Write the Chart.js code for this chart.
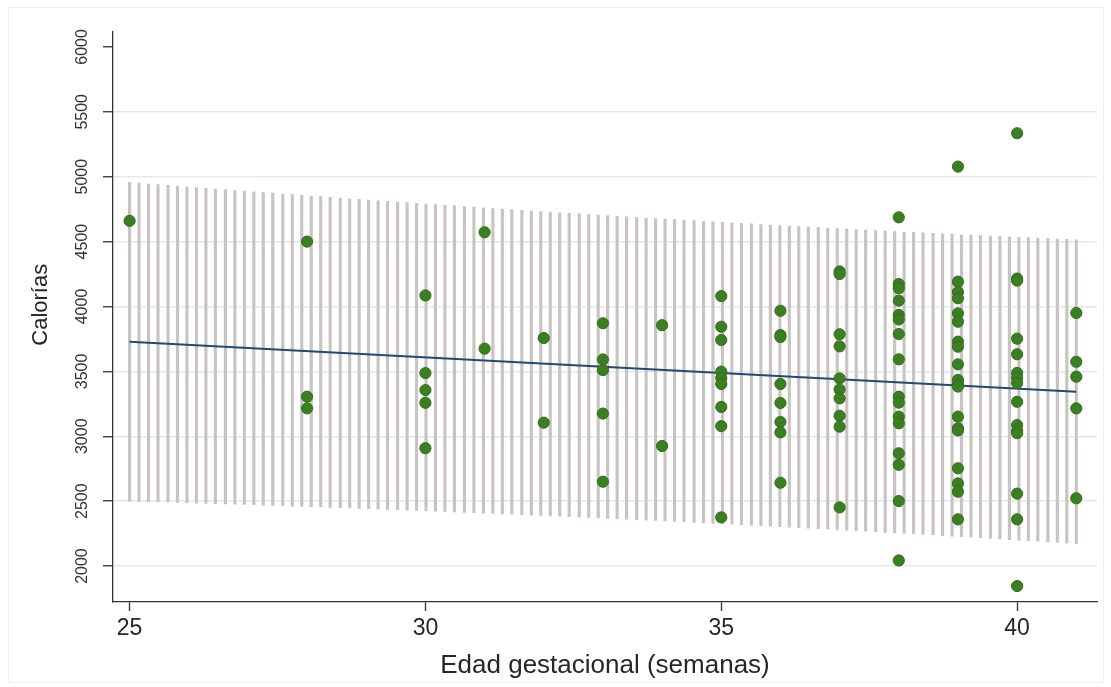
<!DOCTYPE html>
<html>
<head>
<meta charset="utf-8">
<title>Calorías vs edad gestacional</title>
<script src="https://cdn.jsdelivr.net/npm/chart.js@4/dist/chart.umd.min.js"></script>
<style>
  html, body { margin: 0; padding: 0; background: #fff; }
  #wrap { width: 1111px; height: 687px; }
</style>
</head>
<body>
<div id="wrap"><canvas id="chart" width="1111" height="687"></canvas></div>
<script>
// ---- data ----
const xTicks = [25, 30, 35, 40];
const yTicks = [2000, 2500, 3000, 3500, 4000, 4500, 5000, 5500, 6000];

// observed points, one list of calories per gestational week
const weeks = [25, 28, 30, 31, 32, 33, 34, 35, 36, 37, 38, 39, 40, 41];
const calories = [
  [4660],
  [4500, 3305, 3215],
  [4085, 3487, 3356, 3258, 2908],
  [4572, 3675],
  [3757, 3105],
  [3871, 3592, 3510, 3175, 2650],
  [3856, 2925],
  [4080, 3844, 3742, 3498, 3449, 3403, 3226, 3078, 2375],
  [3967, 3780, 3765, 3403, 3257, 3110, 3030, 2642],
  [4270, 4250, 3786, 3693, 3446, 3360, 3292, 3158, 3074, 2452],
  [4687, 4173, 4140, 4045, 3935, 3900, 3788, 3593, 3305, 3259, 3151, 3100, 2869, 2780, 2501, 2043],
  [5078, 4191, 4110, 4063, 3947, 3883, 3729, 3690, 3554, 3434, 3400, 3383, 3151, 3061, 3045, 2753, 2637, 2573, 2360],
  [5335, 4215, 4200, 3752, 3632, 3488, 3450, 3410, 3266, 3086, 3040, 3024, 2558, 2360, 1846],
  [3950, 3574, 3459, 3215, 2522]
];

// fitted line end points
const fitX = [25, 41];
const fitY = [3728, 3343];

// interval band, drawn as vertical spikes
const bandX = [
  25.00, 25.16, 25.32, 25.48, 25.65, 25.81, 25.97, 26.13, 26.29, 26.45,
  26.62, 26.78, 26.94, 27.10, 27.26, 27.42, 27.59, 27.75, 27.91, 28.07,
  28.23, 28.39, 28.56, 28.72, 28.88, 29.04, 29.20, 29.36, 29.53, 29.69,
  29.85, 30.01, 30.17, 30.33, 30.49, 30.66, 30.82, 30.98, 31.14, 31.30,
  31.46, 31.63, 31.79, 31.95, 32.11, 32.27, 32.43, 32.60, 32.76, 32.92,
  33.08, 33.24, 33.40, 33.57, 33.73, 33.89, 34.05, 34.21, 34.37, 34.54,
  34.70, 34.86, 35.02, 35.18, 35.34, 35.51, 35.67, 35.83, 35.99, 36.15,
  36.31, 36.47, 36.64, 36.80, 36.96, 37.12, 37.28, 37.44, 37.61, 37.77,
  37.93, 38.09, 38.25, 38.41, 38.58, 38.74, 38.90, 39.06, 39.22, 39.38,
  39.55, 39.71, 39.87, 40.03, 40.19, 40.35, 40.52, 40.68, 40.84, 41.00
];
const bandHigh = [
  4956, 4950, 4944, 4939, 4933, 4928, 4922, 4916, 4911, 4905,
  4900, 4894, 4889, 4883, 4878, 4873, 4867, 4862, 4856, 4851,
  4846, 4841, 4835, 4830, 4825, 4820, 4815, 4810, 4805, 4800,
  4795, 4790, 4785, 4780, 4775, 4770, 4765, 4760, 4755, 4751,
  4746, 4741, 4736, 4732, 4727, 4722, 4718, 4713, 4709, 4704,
  4700, 4695, 4691, 4687, 4682, 4678, 4673, 4669, 4665, 4661,
  4656, 4652, 4648, 4644, 4640, 4636, 4632, 4628, 4624, 4620,
  4616, 4612, 4608, 4604, 4600, 4597, 4593, 4589, 4585, 4582,
  4578, 4574, 4571, 4567, 4564, 4560, 4557, 4553, 4550, 4546,
  4543, 4540, 4536, 4533, 4530, 4527, 4523, 4520, 4517, 4514
];
const bandLow = [
  2500, 2498, 2496, 2494, 2492, 2490, 2488, 2485, 2483, 2481,
  2479, 2476, 2474, 2472, 2469, 2467, 2465, 2462, 2460, 2457,
  2455, 2452, 2450, 2447, 2444, 2442, 2439, 2436, 2434, 2431,
  2428, 2425, 2423, 2420, 2417, 2414, 2411, 2408, 2405, 2402,
  2399, 2396, 2393, 2390, 2387, 2384, 2380, 2377, 2374, 2371,
  2367, 2364, 2361, 2357, 2354, 2351, 2347, 2344, 2340, 2337,
  2333, 2329, 2326, 2322, 2318, 2315, 2311, 2307, 2304, 2300,
  2296, 2292, 2288, 2284, 2280, 2276, 2272, 2268, 2264, 2260,
  2256, 2252, 2248, 2243, 2239, 2235, 2231, 2226, 2222, 2218,
  2213, 2209, 2204, 2200, 2195, 2191, 2186, 2182, 2177, 2172
];

// ---- build datasets ----
const scatterPoints = [];
weeks.forEach((w, i) => {
  calories[i].forEach(c => scatterPoints.push({ x: w, y: c }));
});
const bandBars = bandX.map((x, i) => ({ x: x, y: [bandLow[i], bandHigh[i]] }));
const fitPoints = fitX.map((x, i) => ({ x: x, y: fitY[i] }));

const FONT = "'Liberation Sans', Arial, sans-serif";
const INK = '#262626';

// white page with a faint outer frame
const pageBackground = {
  id: 'pageBackground',
  beforeDraw(chart) {
    const ctx = chart.ctx;
    ctx.save();
    ctx.fillStyle = '#ffffff';
    ctx.fillRect(0, 0, chart.width, chart.height);
    ctx.strokeStyle = '#efefef';
    ctx.lineWidth = 1;
    ctx.strokeRect(8.5, 7.5, chart.width - 16, chart.height - 12);
    ctx.restore();
  }
};

new Chart(document.getElementById('chart'), {
  type: 'scatter',
  data: {
    datasets: [
      {
        type: 'scatter',
        data: scatterPoints,
        backgroundColor: '#3c7e22',
        borderColor: '#336f1b',
        borderWidth: 1,
        pointRadius: 5.6,
        order: 1
      },
      {
        type: 'line',
        data: fitPoints,
        borderColor: '#1f4a72',
        borderWidth: 2,
        pointRadius: 0,
        fill: false,
        order: 2
      },
      {
        type: 'bar',
        data: bandBars,
        backgroundColor: '#c9c3c3',
        borderWidth: 0,
        barThickness: 2.5,
        grouped: false,
        order: 3
      }
    ]
  },
  options: {
    responsive: false,
    animation: false,
    layout: { padding: { top: 32, right: 14, bottom: 0, left: 0 } },
    plugins: {
      legend: { display: false },
      tooltip: { enabled: false }
    },
    scales: {
      x: {
        type: 'linear',
        min: 24.72,
        max: 41.35,
        offset: false,
        afterBuildTicks: (scale) => { scale.ticks = xTicks.map(v => ({ value: v })); },
        afterFit: (scale) => { scale.height = 85; },
        grid: {
          offset: false,
          drawOnChartArea: false,
          drawTicks: true,
          tickLength: 9,
          tickColor: '#333',
          tickWidth: 1.3
        },
        border: { color: '#333', width: 1.3 },
        ticks: {
          maxRotation: 0,
          autoSkip: false,
          padding: 4,
          color: INK,
          font: { family: FONT, size: 23 },
          callback: (v) => String(v)
        },
        title: {
          display: true,
          text: 'Edad gestacional (semanas)',
          color: INK,
          font: { family: FONT, size: 26 },
          padding: { top: 0, bottom: 6 }
        }
      },
      y: {
        type: 'linear',
        min: 1723,
        max: 6115,
        afterBuildTicks: (scale) => { scale.ticks = yTicks.map(v => ({ value: v })); },
        afterFit: (scale) => { scale.width = 113; },
        grid: {
          color: (c) => (c.tick && c.tick.value === 6000) ? 'rgba(0,0,0,0)' : '#e2e9ed',
          lineWidth: 1.5,
          drawTicks: true,
          tickLength: 10,
          tickColor: '#333',
          tickWidth: 1.3
        },
        border: { color: '#333', width: 1.3 },
        ticks: {
          minRotation: 90,
          maxRotation: 90,
          crossAlign: 'center',
          autoSkip: false,
          padding: 3,
          color: '#333',
          font: { family: FONT, size: 16 },
          callback: (v) => String(v)
        },
        title: {
          display: true,
          // leading spaces nudge the rotated title up to where the reference has it
          text: '    Calorías',
          color: INK,
          font: { family: FONT, size: 22 },
          padding: { top: 28, bottom: 0 }
        }
      }
    }
  },
  plugins: [pageBackground]
});
</script>
</body>
</html>
